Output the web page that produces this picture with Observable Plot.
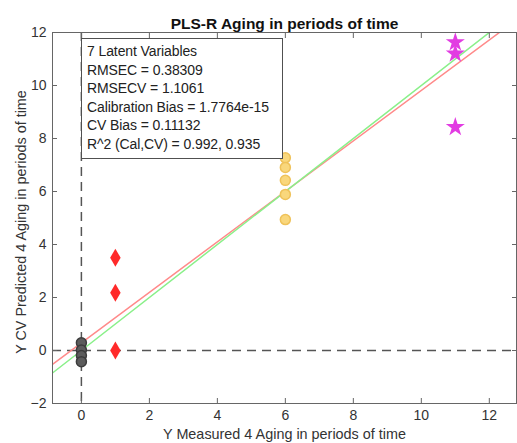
<!DOCTYPE html>
<html><head><meta charset="utf-8">
<script src="https://cdn.jsdelivr.net/npm/d3@7"></script>
<script src="https://cdn.jsdelivr.net/npm/@observablehq/plot@0.6"></script>
<style>
body{margin:0;background:#fff;}
#wrap{position:relative;width:517px;height:443px;overflow:hidden;}
#info{position:absolute;left:81px;top:38px;width:202px;height:121px;border:1.5px solid #505050;background:#fff;font:14px "Liberation Sans",Arial,sans-serif;color:#222;line-height:18.6px;padding:3px 0 0 5px;box-sizing:border-box;white-space:nowrap;letter-spacing:-0.1px;}
</style></head><body><div id="wrap"></div>
<script>
const title = "PLS-R Aging in periods of time";
const xLabel = "Y Measured 4 Aging in periods of time";
const yLabel = "Y CV Predicted 4 Aging in periods of time";
const xTicks = [0, 2, 4, 6, 8, 10, 12];
const yTicks = [-2, 0, 2, 4, 6, 8, 10, 12];
const infoLines = ["7 Latent Variables", "RMSEC = 0.38309", "RMSECV = 1.1061",
  "Calibration Bias = 1.7764e-15", "CV Bias = 0.11132", "R^2 (Cal,CV) = 0.992, 0.935"];

// samples per class (measured, CV predicted)
const grayX = [0, 0, 0, 0];
const grayY = [0.29, 0.02, -0.19, -0.42];
const redX = [1, 1, 1];
const redY = [3.5, 2.18, 0.0];
const yellowX = [6, 6, 6, 6, 6];
const yellowY = [7.27, 6.91, 6.42, 5.89, 4.94];
const magentaX = [11, 11, 11];
const magentaY = [11.63, 11.2, 8.43];

// fit line and 1:1 target line endpoints
const fitX = [-0.85, 12.8];
const fitY = [-0.52, 12.48];
const targetX = [-0.85, 12.8];
const targetY = [-0.85, 12.8];

const pts = (xs, ys) => xs.map((x, i) => ({x, y: ys[i]}));
const font = '"Liberation Sans", Arial, sans-serif';

const chart = Plot.plot({
  width: 517, height: 443,
  marginTop: 32, marginBottom: 40, marginLeft: 52, marginRight: 1,
  style: {fontFamily: font, fontSize: "14px", color: "#333", background: "#fff"},
  x: {domain: [-0.85, 12.8]},
  y: {domain: [-2, 12]},
  marks: [
    Plot.ruleX([0], {stroke: "#555", strokeDasharray: "9,6", strokeWidth: 1.5}),
    Plot.ruleY([0], {stroke: "#555", strokeDasharray: "9,6", strokeWidth: 1.5}),
    Plot.line(pts(fitX, fitY), {x: "x", y: "y", stroke: "#ff8a8a", strokeWidth: 1.5, clip: true}),
    Plot.line(pts(targetX, targetY), {x: "x", y: "y", stroke: "#8af08a", strokeWidth: 1.5, clip: true}),
    Plot.dot(pts(grayX, grayY), {x: "x", y: "y", r: 5, fill: "#5c5c5c", stroke: "#3c3c3c"}),
    Plot.dot(pts(redX, redY), {x: "x", y: "y", r: 5.5, symbol: "diamond", fill: "#ff2a2a", stroke: "none"}),
    Plot.dot(pts(yellowX, yellowY), {x: "x", y: "y", r: 5, fill: "#f9d77c", stroke: "#efc25a"}),
    Plot.dot(pts(magentaX, magentaY), {x: "x", y: "y", r: 6, symbol: "star", fill: "#e23ce2", stroke: "none"}),
    Plot.frame({stroke: "#666"}),
    Plot.axisX({ticks: xTicks, tickSize: -5, tickPadding: 12, label: null, stroke: "#666", fontSize: 14}),
    Plot.axisX({anchor: "top", ticks: xTicks, tickSize: -5, tickFormat: () => "", label: null, stroke: "#666"}),
    Plot.axisY({ticks: yTicks, tickSize: -5, tickPadding: 11, label: null, stroke: "#666", fontSize: 14}),
    Plot.axisY({anchor: "right", ticks: yTicks, tickSize: -5, tickFormat: () => "", label: null, stroke: "#666"}),
    Plot.text([title], {text: d => d, frameAnchor: "top", dy: -15, fontWeight: "bold", fontSize: 15.5, fill: "#111"}),
    Plot.text([xLabel], {text: d => d, frameAnchor: "bottom", dy: 35, fontSize: 14.4, fill: "#333"}),
    Plot.text([yLabel], {text: d => d, frameAnchor: "left", textAnchor: "middle", dx: -31, dy: 4, rotate: -90, fontSize: 14.4, fill: "#333"})
  ]
});
const wrap = document.getElementById("wrap");
wrap.appendChild(chart);
const info = document.createElement("div");
info.id = "info";
info.innerHTML = infoLines.map(s => `<div>${s.replace(/</g, "&lt;")}</div>`).join("");
wrap.appendChild(info);
</script>
</body></html>
